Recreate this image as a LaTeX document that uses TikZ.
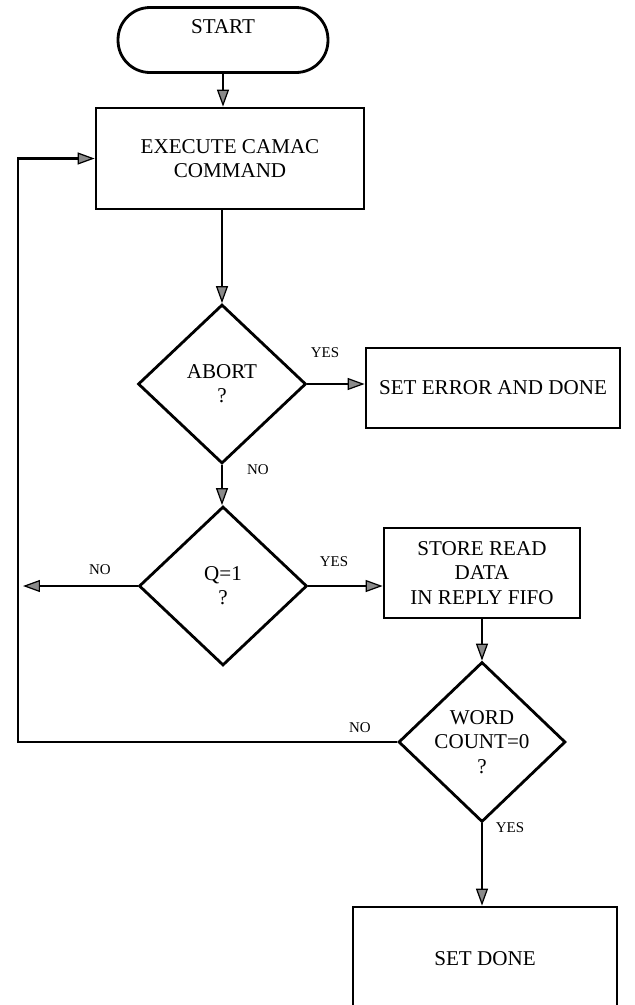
\documentclass[tikz,border=0pt]{standalone}
\usepackage{fontspec}
\setmainfont{Liberation Serif}
\usetikzlibrary{shapes.geometric,arrows.meta}
\definecolor{tipgray}{HTML}{8A8A8A}

\begin{document}
\begin{tikzpicture}[x=0.02cm,y=-0.02cm,
  line width=1.6pt,
  box/.style={draw,rectangle,inner sep=0pt,align=center,font=\fontsize{12}{13.8}\selectfont},
  term/.style={box,rounded corners=0.64cm,minimum width=4.2cm,minimum height=1.3cm,text height=8pt,text depth=15pt},
  test/.style={draw,diamond,inner sep=0pt,align=center,minimum width=3.36cm,minimum height=3.18cm,font=\fontsize{12}{13.8}\selectfont},
  tag/.style={inner sep=0pt,font=\fontsize{8.5}{10}\selectfont},
  flow/.style={-{Triangle[length=0.34cm,width=0.24cm,fill=tipgray,line width=0.7pt]}}]
\clip (0,0) rectangle (635,1005);
\node[term] (start) at (223,40) {START};
\node[box,minimum width=5.36cm,minimum height=2.02cm] (exec) at (230,158.5) {EXECUTE CAMAC\\COMMAND};
\node[test] (abort) at (222,384) {ABORT\\?};
\node[box,minimum width=5.08cm,minimum height=1.6cm] (seterr) at (493,388) {SET ERROR AND DONE};
\node[test] (qtest) at (223,586) {Q=1\\?};
\node[box,minimum width=3.92cm,minimum height=1.8cm] (store) at (482,573) {STORE READ\\DATA\\IN REPLY FIFO};
\node[test,minimum width=3.34cm,minimum height=3.2cm] (wcount) at (482,742) {WORD\\COUNT=0\\?};
\node[box,minimum width=5.28cm,minimum height=2.06cm] (done) at (485,958.5) {SET DONE};
\coordinate (qout) at (23,586);
\coordinate (loopx) at (18,0);
\node[tag] (yesA) at (325,353) {YES};
\node[tag] (noA) at (258,470) {NO};
\node[tag] (noQ) at (100,570) {NO};
\node[tag] (yesQ) at (334,562) {YES};
\node[tag] (noW) at (360,728) {NO};
\node[tag] (yesW) at (510,828) {YES};
\draw[flow] (start.south) -- (start.south |- exec.north);
\draw[flow] (abort.north |- exec.south) -- (abort.north);
\draw[flow] (abort.east) -- (abort.east -| seterr.west);
\draw[flow] (abort.south) -- (abort.south |- qtest.north);
\draw[flow] (qtest.west) -- (qout);
\draw[flow] (qtest.east) -- (qtest.east -| store.west);
\draw[flow] (wcount.north |- store.south) -- (wcount.north);
\draw[flow] (wcount.south) -- (wcount.south |- done.north);
\draw[flow] (wcount.west) -- (wcount.west -| loopx) |- (exec.west);
\end{tikzpicture}
\end{document}
